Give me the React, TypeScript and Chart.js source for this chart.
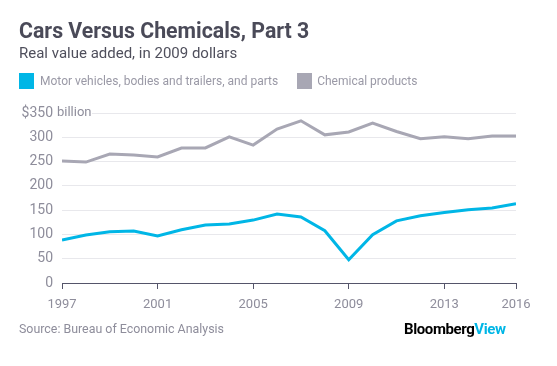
import React, { useEffect, useRef } from "react";
import { Chart, registerables } from "chart.js";

Chart.register(...registerables);

const years = [1997, 1998, 1999, 2000, 2001, 2002, 2003, 2004, 2005, 2006, 2007, 2008, 2009, 2010, 2011, 2012, 2013, 2014, 2015, 2016];
const motorVehicles = [88.5, 99, 105.5, 107, 97, 109.5, 119.5, 121.5, 129.5, 142, 136, 107.5, 48, 99.5, 128, 138.5, 145, 151, 154.5, 163];
const chemicals = [251, 249, 265.5, 263.5, 259.5, 278, 278, 301, 284, 317, 334, 305, 311, 329, 312, 297, 301, 297, 302.5, 302.5];
const xTickValues = [1997, 2001, 2005, 2009, 2013, 2016];
const yTickValues = [0, 50, 100, 150, 200, 250, 300, 350];

const CYAN = "#00b6e6";
const GRAY = "#a8a7b4";
const FONT = "Roboto, 'Noto Sans', sans-serif";

export default function App() {
  const ref = useRef<HTMLCanvasElement | null>(null);

  useEffect(() => {
    if (!ref.current) return;
    const billionPlugin = {
      id: "billion",
      afterDraw(chart: any) {
        const { ctx, scales } = chart;
        const y = scales.y.getPixelForValue(350);
        ctx.save();
        ctx.fillStyle = "#ffffff";
        ctx.fillRect(chart.chartArea.left - 8, y - 8, 38, 16);
        ctx.fillStyle = "#8e8d9b";
        ctx.font = `13px ${FONT}`;
        ctx.textAlign = "left";
        ctx.textBaseline = "middle";
        ctx.fillText("billion", chart.chartArea.left - 5, y);
        ctx.restore();
      },
    };
    const chart = new Chart(ref.current, {
      type: "line",
      data: {
        labels: years,
        datasets: [
          {
            label: "Motor vehicles, bodies and trailers, and parts",
            data: years.map((yr, i) => ({ x: yr, y: motorVehicles[i] })),
            borderColor: CYAN,
            backgroundColor: CYAN,
            borderWidth: 3,
            pointRadius: 0,
            tension: 0,
          },
          {
            label: "Chemical products",
            data: years.map((yr, i) => ({ x: yr, y: chemicals[i] })),
            borderColor: GRAY,
            backgroundColor: GRAY,
            borderWidth: 3,
            pointRadius: 0,
            tension: 0,
          },
        ],
      },
      options: {
        animation: false,
        responsive: false,
        layout: { padding: { left: 0, right: 41, top: 113, bottom: 0 } },
        plugins: { legend: { display: false }, tooltip: { enabled: false } },
        scales: {
          x: {
            type: "linear",
            min: 1997,
            max: 2016,
            afterBuildTicks: (scale: any) => {
              scale.ticks = xTickValues.map((v) => ({ value: v }));
            },
            afterFit: (scale: any) => {
              scale.height = 83;
            },
            grid: { display: true, drawOnChartArea: false, drawTicks: true, tickLength: 6, color: "#55556a" },
            border: { display: true, color: "#55556a", width: 1 },
            ticks: {
              color: "#8e8d9b",
              font: { family: FONT, size: 13 },
              padding: 8,
              maxRotation: 0,
              autoSkip: false,
              callback: (v: any) => String(v),
            },
          },
          y: {
            min: 0,
            max: 350,
            afterBuildTicks: (scale: any) => {
              scale.ticks = yTickValues.map((v) => ({ value: v }));
            },
            afterFit: (scale: any) => {
              scale.width = 62;
            },
            grid: { color: "#e8e8ec", drawTicks: false, lineWidth: 1 },
            border: { display: false },
            ticks: {
              color: "#8e8d9b",
              font: { family: FONT, size: 14 },
              padding: 9,
              callback: (v: any) => (v === 350 ? "$350" : String(v)),
            },
          },
        },
      },
      plugins: [billionPlugin],
    });
    return () => chart.destroy();
  }, []);

  return (
    <div style={{ position: "fixed", left: 0, top: 0, width: 557, height: 366, background: "#fff", fontFamily: FONT }}>
      <canvas ref={ref} width={557} height={366} style={{ position: "absolute", left: 0, top: 0 }} />
      <div style={{ position: "absolute", left: 19, top: 19, fontSize: 21.3, fontWeight: 700, color: "#4a4a58", whiteSpace: "nowrap", lineHeight: "24px" }}>
        Cars Versus Chemicals, Part 3
      </div>
      <div style={{ position: "absolute", left: 19, top: 43.5, fontSize: 15, color: "#4f4f5c", whiteSpace: "nowrap", lineHeight: "18px" }}>
        Real value added, in 2009 dollars
      </div>
      <div style={{ position: "absolute", left: 19, top: 73, display: "flex", alignItems: "center", fontSize: 12, color: "#9a99a6", whiteSpace: "nowrap", height: 16 }}>
        <span style={{ display: "inline-block", width: 15, height: 16, background: CYAN, marginRight: 6 }} />
        <span>Motor vehicles, bodies and trailers, and parts</span>
        <span style={{ display: "inline-block", width: 15, height: 16, background: GRAY, marginLeft: 19, marginRight: 5 }} />
        <span>Chemical products</span>
      </div>
      <div style={{ position: "absolute", left: 19, top: 321, fontSize: 12.4, color: "#8e8d9b", whiteSpace: "nowrap", lineHeight: "16px" }}>
        Source: Bureau of Economic Analysis
      </div>
      <div style={{ position: "absolute", left: 404, top: 320, fontSize: 15, fontWeight: 700, whiteSpace: "nowrap", lineHeight: "18px", letterSpacing: -0.4 }}>
        <span style={{ color: "#000" }}>Bloomberg</span>
        <span style={{ color: CYAN }}>View</span>
      </div>
    </div>
  );
}
